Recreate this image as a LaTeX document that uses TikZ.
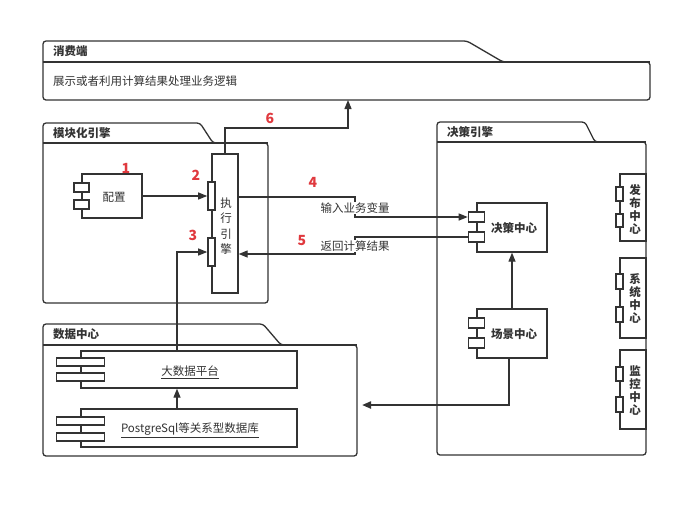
\documentclass[tikz,border=0pt]{standalone}
\usepackage{fontspec}
\setmainfont{Noto Sans CJK SC}
\usetikzlibrary{arrows.meta}
\definecolor{ln}{HTML}{333333}
\definecolor{numred}{HTML}{E0393E}
\tikzset{
  pkgline/.style={draw=ln, line width=1.3pt, rounded corners=3pt},
  comp/.style={draw=ln, line width=1.3pt, fill=white, rectangle, inner sep=0pt},
  port/.style={draw=ln, line width=1.3pt, fill=white, rectangle, inner sep=0pt},
  conn/.style={draw=ln, line width=1.2pt},
  arr/.style={conn, -{Triangle[length=9pt,width=7pt]}},
  txt/.style={text=ln, font=\fontsize{11.5}{13}\selectfont, inner sep=1pt},
  btxt/.style={text=ln, font=\fontsize{11.5}{13}\selectfont\bfseries, inner sep=1pt},
  num/.style={text=numred, font=\fontsize{14}{16}\selectfont\bfseries, inner sep=0pt},
  vtxt/.style={text=ln, align=center, inner sep=0pt},
}
% #1 name, #2 title, #3 x1, #4 ytop, #5 xtab, #6 xdiag, #7 ybody, #8 x2, #9 y2
\newcommand\umlpkg[9]{%
  \draw[pkgline] (#3,#7) |- (#5,#4) -- (#6,#7) -| (#8,#9) -| cycle;
  \draw[line width=1.3pt, draw=ln] (#3,#7) -- (#8,#7);
  \coordinate (#1-nw) at (#3,#7);
  \coordinate (#1-se) at (#8,#9);
  \node[btxt, anchor=west] (#1-title) at (#3+9,{(#4+#7)/2}) {#2};
}
\begin{document}
\begin{tikzpicture}[x=1pt,y=-1pt]
\useasboundingbox[fill=white] (0,0) rectangle (700,504);

% packages
\umlpkg{cons}{消费端}{43}{41}{467}{503}{62}{650}{100}
\node[txt, anchor=west] (constext) at (52,81) {展示或者利用计算结果处理业务逻辑};
\coordinate (consin) at (348,100);

\umlpkg{mod}{模块化引擎}{43}{123}{200}{213}{143}{268}{303}
\umlpkg{dec}{决策引擎}{437}{122}{585}{595}{142}{646}{455}
\umlpkg{dc}{数据中心}{43}{324}{263}{281}{345}{357}{456}

% 配置
\node[comp, minimum width=60pt, minimum height=44pt] (cfg) at (112,196) {};
\node[port, minimum width=15pt, minimum height=9pt] (cfgp1) at (cfg.west |- 0,187.5) {};
\node[port, minimum width=15pt, minimum height=9pt] (cfgp2) at (cfg.west |- 0,204.5) {};
\node[txt] (cfgt) at (114,197) {配置};

% 执行引擎
\node[comp, minimum width=26pt, minimum height=139pt] (exe) at (225,223.5) {};
\node[port, minimum width=7pt, minimum height=28pt] (exep1) at (exe.west |- 0,196) {};
\node[port, minimum width=7pt, minimum height=28pt] (exep2) at (exe.west |- 0,252) {};
\node[vtxt, font=\fontsize{11.5}{15.5}\selectfont] (exet) at (226,226) {执\\行\\引\\擎};

% 决策中心
\node[comp, minimum width=70pt, minimum height=49pt] (dcen) at (512,227.5) {};
\node[port, minimum width=16pt, minimum height=10pt] (dcp1) at (dcen.west |- 0,217) {};
\node[port, minimum width=16pt, minimum height=10pt] (dcp2) at (dcen.west |- 0,237) {};
\node[btxt] (dcent) at (514,228) {决策中心};

% 场景中心
\node[comp, minimum width=70pt, minimum height=49pt] (scen) at (512,333.5) {};
\node[port, minimum width=16pt, minimum height=10pt] (scp1) at (scen.west |- 0,323) {};
\node[port, minimum width=16pt, minimum height=10pt] (scp2) at (scen.west |- 0,343) {};
\node[btxt] (scent) at (514,334) {场景中心};

% side boxes
\node[comp, minimum width=26pt, minimum height=67pt] (pub) at (633,207.5) {};
\node[port, minimum width=7pt, minimum height=14pt] (pubp1) at (pub.west |- 0,194) {};
\node[port, minimum width=7pt, minimum height=13pt] (pubp2) at (pub.west |- 0,220.5) {};
\node[vtxt, font=\fontsize{11.5}{13}\selectfont\bfseries] (pubt) at (635,209) {发\\布\\中\\心};

\node[comp, minimum width=26pt, minimum height=80pt] (sys) at (633,298) {};
\node[port, minimum width=7pt, minimum height=15pt] (sysp1) at (sys.west |- 0,281.5) {};
\node[port, minimum width=7pt, minimum height=15pt] (sysp2) at (sys.west |- 0,314.5) {};
\node[vtxt, font=\fontsize{11.5}{13}\selectfont\bfseries] (syst) at (635,298) {系\\统\\中\\心};

\node[comp, minimum width=26pt, minimum height=79pt] (mon) at (633,389.5) {};
\node[port, minimum width=7pt, minimum height=14pt] (monp1) at (mon.west |- 0,374) {};
\node[port, minimum width=7pt, minimum height=15pt] (monp2) at (mon.west |- 0,404.5) {};
\node[vtxt, font=\fontsize{11.5}{13}\selectfont\bfseries] (mont) at (635,390) {监\\控\\中\\心};

% 大数据平台
\node[comp, minimum width=216pt, minimum height=37pt] (big) at (189,369.5) {};
\node[port, minimum width=48pt, minimum height=8pt] (bigp1) at (big.west |- 0,362) {};
\node[port, minimum width=48pt, minimum height=8pt] (bigp2) at (big.west |- 0,377) {};
\node[txt] (bigt) at (190,372) {\underline{大数据平台}};

% PostgreSql
\node[comp, minimum width=216pt, minimum height=38pt] (pg) at (189,428) {};
\node[port, minimum width=48pt, minimum height=8pt] (pgp1) at (pg.west |- 0,421) {};
\node[port, minimum width=48pt, minimum height=8pt] (pgp2) at (pg.west |- 0,437) {};
\node[txt] (pgt) at (190,430) {\underline{PostgreSql等关系型数据库}};

% connectors
\draw[arr] (cfg.east) -- (exep1.west);
\draw[arr] ([xshift=-12pt]big.north) |- (exep2.west);
\draw[arr] ([xshift=-12pt]pg.north) -- ([xshift=-12pt]big.south);
\draw[arr] (exe.north) -- (exe.north |- 0,128) -| (consin);
\draw[arr] (scen.north) -- (dcen.south);
\draw[conn, line width=2pt, -{Triangle[length=9pt,width=7pt]}, shorten >=5pt] ([xshift=-3pt]scen.south) |- (dc-se |- 0,405);

\coordinate (j4) at (355,197);
\coordinate (j5) at (355,254);
\draw[arr] (exe.east |- j4) -- (j4) -- (j4 |- dcp1) -- (dcp1.west);
\draw[arr] (dcp2.west) -- (j5 |- dcp2) -- (j5) -- (exe.east |- j5);
\node[txt, fill=white] (l4) at (355,208) {输入业务变量};
\node[txt, fill=white] (l5) at (355,246) {返回计算结果};

% numbers
\node[num] (n1) at (126,168) {1};
\node[num] (n2) at (196,175) {2};
\node[num] (n3) at (193,235) {3};
\node[num] (n4) at (313,182) {4};
\node[num] (n5) at (302,241) {5};
\node[num] (n6) at (270,118) {6};
\end{tikzpicture}
\end{document}
